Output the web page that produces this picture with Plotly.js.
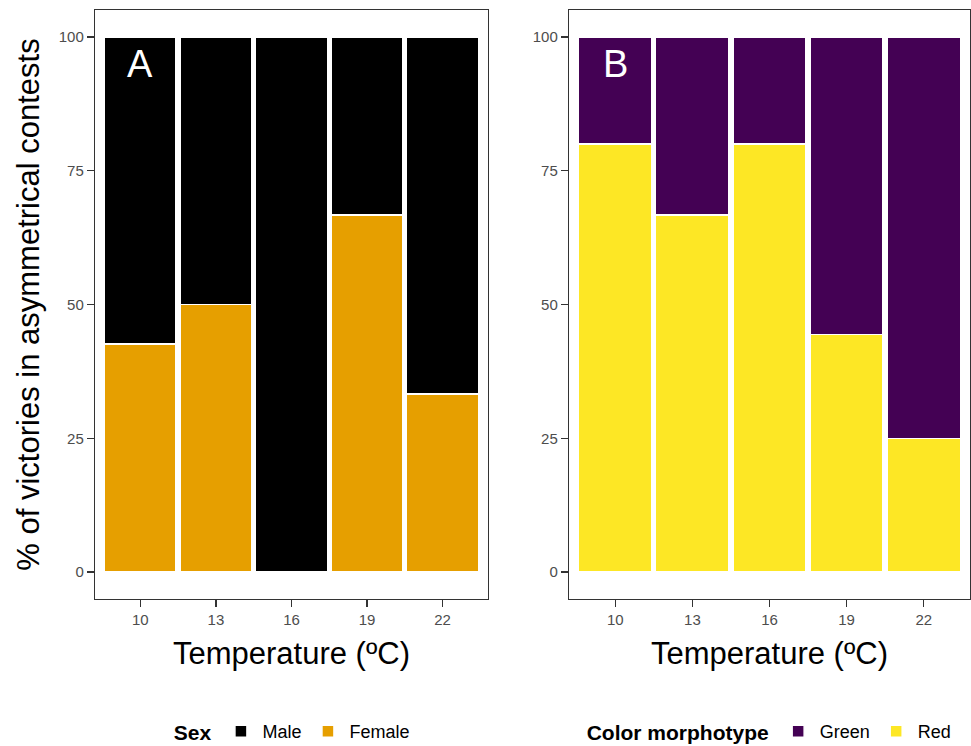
<!DOCTYPE html>
<html>
<head>
<meta charset="utf-8">
<script src="https://cdn.plot.ly/plotly-3.0.1.min.js"></script>
<style>html,body{margin:0;padding:0;background:#fff;}#chart{width:971px;height:746px;}</style>
</head>
<body>
<div id="chart"></div>
<script>
// Data
var temperatures = ['10', '13', '16', '19', '22'];
var femaleWins = [42.6, 50, 0, 66.7, 33.3];
var maleWins = [57.4, 50, 100, 33.3, 66.7];
var redWins = [80, 66.7, 80, 44.4, 25];
var greenWins = [20, 33.3, 20, 55.6, 75];
var yTicks = [0, 25, 50, 75, 100];
var panelLabels = ['A', 'B'];

var font = 'Liberation Sans, Arial, sans-serif';
var barLine = {color: '#FFFFFF', width: 1.5};
var bw = 0.95;

var traces = [
  {type: 'bar', x: temperatures, y: femaleWins, name: 'Female', width: bw,
   marker: {color: '#E69F00', line: barLine}, xaxis: 'x', yaxis: 'y', legend: 'legend'},
  {type: 'bar', x: temperatures, y: maleWins, name: 'Male', width: bw,
   marker: {color: '#000000', line: barLine}, xaxis: 'x', yaxis: 'y', legend: 'legend'},
  {type: 'bar', x: temperatures, y: redWins, name: 'Red', width: bw,
   marker: {color: '#FDE725', line: barLine}, xaxis: 'x2', yaxis: 'y2', legend: 'legend2'},
  {type: 'bar', x: temperatures, y: greenWins, name: 'Green', width: bw,
   marker: {color: '#440154', line: barLine}, xaxis: 'x2', yaxis: 'y2', legend: 'legend2'}
];

function xax(domain) {
  return {
    domain: domain, type: 'category', range: [-0.6, 4.6],
    showline: true, mirror: true, linecolor: '#333333', linewidth: 1.2,
    ticks: 'outside', ticklen: 7, tickwidth: 1.5, tickcolor: '#333333',
    tickfont: {family: font, size: 15, color: '#4D4D4D'},
    showgrid: false, zeroline: false, automargin: false,
    title: {text: 'Temperature (ºC)', font: {family: font, size: 31, color: '#000000'}, standoff: 15}
  };
}
function yax(withTitle) {
  var a = {
    domain: [0, 1], range: [-5, 105], tickvals: yTicks, ticktext: yTicks.map(String),
    showline: true, mirror: true, linecolor: '#333333', linewidth: 1.2,
    ticks: 'outside', ticklen: 7, tickwidth: 1.5, tickcolor: '#333333',
    tickfont: {family: font, size: 15, color: '#4D4D4D'},
    showgrid: false, zeroline: false, automargin: false
  };
  if (withTitle) {
    a.title = {text: '% of victories in asymmetrical contests', font: {family: font, size: 31, color: '#000000'}, standoff: 10};
  }
  return a;
}

var xa1 = xax([0, 0.4491]); xa1.anchor = 'y';
var ya1 = yax(true); ya1.anchor = 'x';
var xa2 = xax([0.5417, 1]); xa2.anchor = 'y2';
var ya2 = yax(false); ya2.anchor = 'x2';

var legendCommon = {
  orientation: 'h', yanchor: 'middle', y: -0.226, xanchor: 'left',
  font: {family: font, size: 18, color: '#000000'}, itemwidth: 33,
  traceorder: 'reversed', bgcolor: 'rgba(0,0,0,0)', borderwidth: 0
};
var leg1 = Object.assign({}, legendCommon, {x: 0.0877,
  title: {text: '<b>Sex</b>', side: 'left', font: {family: font, size: 21, color: '#000000'}}});
var leg2 = Object.assign({}, legendCommon, {x: 0.5596,
  title: {text: '<b>Color morphotype</b>', side: 'left', font: {family: font, size: 21, color: '#000000'}}});

var layout = {
  width: 971, height: 746,
  margin: {l: 95, r: 1, t: 10, b: 147, autoexpand: false},
  paper_bgcolor: '#FFFFFF', plot_bgcolor: '#FFFFFF',
  barmode: 'stack', bargap: 0,
  showlegend: true,
  xaxis: xa1, yaxis: ya1, xaxis2: xa2, yaxis2: ya2,
  legend: leg1, legend2: leg2,
  annotations: [
    {xref: 'x', yref: 'y', x: 0, y: 95, text: panelLabels[0], showarrow: false,
     font: {family: font, size: 38, color: '#FFFFFF'}, xanchor: 'center', yanchor: 'middle'},
    {xref: 'x2', yref: 'y2', x: 0, y: 95, text: panelLabels[1], showarrow: false,
     font: {family: font, size: 38, color: '#FFFFFF'}, xanchor: 'center', yanchor: 'middle'}
  ]
};

Plotly.newPlot('chart', traces, layout, {displayModeBar: false, staticPlot: true});
</script>
</body>
</html>
